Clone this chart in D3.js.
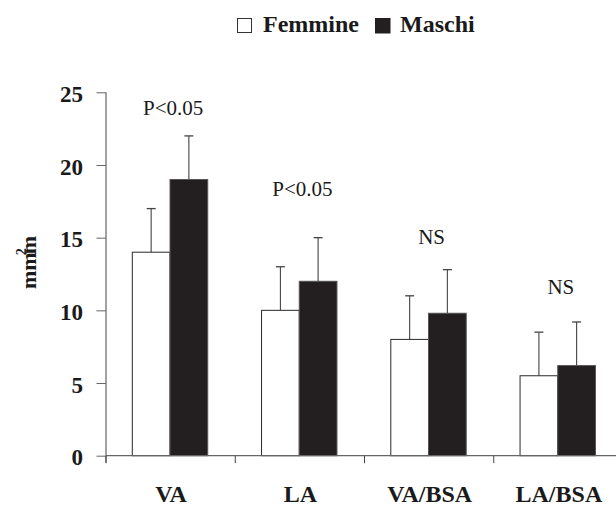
<!DOCTYPE html>
<html>
<head>
<meta charset="utf-8">
<script src="https://cdn.jsdelivr.net/npm/d3@7"></script>
<style>
  html, body { margin: 0; padding: 0; background: #fff; }
  svg { display: block; }
</style>
</head>
<body>
<svg id="chart" width="616" height="507"></svg>
<script>
const categories = ["VA", "LA", "VA/BSA", "LA/BSA"];
const seriesNames = ["Femmine", "Maschi"];
const femmine = [14, 10, 8, 5.5];
const femmineSD = [3, 3, 3, 3];
const maschi = [19, 12, 9.8, 6.2];
const maschiSD = [3, 3, 3, 3];
const annotations = ["P<0.05", "P<0.05", "NS", "NS"];
const annotationLevel = [24, 18.4, 15.1, 11.7];
const yTicks = [0, 5, 10, 15, 20, 25];

(function () {
const svg = d3.select("#chart");
const serif = "'Liberation Serif', 'Times New Roman', 'DejaVu Serif', serif";
const mLeft = 106, mRight = 623, mTop = 92.3, mBottom = 455.7;

const y = d3.scaleLinear().domain([0, 25]).range([mBottom, mTop]);
const x0 = d3.scaleBand().domain(categories).range([mLeft, mRight]).padding(0);
const bw = x0.bandwidth();
const x1 = d3.scaleBand().domain(seriesNames).range([bw * 0.2035, bw * 0.787]).padding(0);

const data = categories.map((c, i) => ({
  cat: c,
  vals: [
    { s: "Femmine", v: femmine[i], sd: femmineSD[i] },
    { s: "Maschi", v: maschi[i], sd: maschiSD[i] }
  ]
}));
const fill = { Femmine: "#ffffff", Maschi: "#231f20" };
const stroke = { Femmine: "#2a2a2a", Maschi: "#555" };

// Error bars (drawn behind bars)
const eg = svg.append("g");
data.forEach(d => {
  d.vals.forEach(b => {
    const cx = x0(d.cat) + x1(b.s) + x1.bandwidth() / 2;
    eg.append("line").attr("x1", cx).attr("x2", cx)
      .attr("y1", y(b.v)).attr("y2", y(b.v + b.sd))
      .attr("stroke", "#444").attr("stroke-width", 1.1);
    eg.append("line").attr("x1", cx - 4.5).attr("x2", cx + 4.5)
      .attr("y1", y(b.v + b.sd)).attr("y2", y(b.v + b.sd))
      .attr("stroke", "#444").attr("stroke-width", 1.3);
  });
});

// Bars
const g = svg.append("g");
data.forEach(d => {
  g.selectAll(null).data(d.vals).enter().append("rect")
    .attr("x", b => x0(d.cat) + x1(b.s))
    .attr("y", b => y(b.v))
    .attr("width", x1.bandwidth())
    .attr("height", b => y(0) - y(b.v))
    .attr("fill", b => fill[b.s])
    .attr("stroke", b => stroke[b.s])
    .attr("stroke-width", 1);
});

// Y axis
const yAxis = d3.axisLeft(y).tickValues(yTicks).tickSize(9.5).tickPadding(14);
const ya = svg.append("g").attr("transform", `translate(${mLeft},0)`).call(yAxis);
ya.select(".domain").attr("stroke", "#444").attr("d", `M0,${mTop}V${mBottom + 7}`);
ya.selectAll(".tick line").attr("stroke", "#666");
ya.selectAll(".tick text").attr("font-family", serif).attr("font-weight", "bold")
  .attr("font-size", 23).attr("dy", "0.4em").attr("x", -23).attr("fill", "#1a1a1a");

// X axis line with ticks at band boundaries
const xa = svg.append("g");
xa.append("line").attr("x1", mLeft).attr("x2", 616).attr("y1", mBottom).attr("y2", mBottom)
  .attr("stroke", "#666").attr("stroke-width", 1.2);
categories.forEach(c => {
  xa.append("line").attr("x1", x0(c)).attr("x2", x0(c))
    .attr("y1", mBottom).attr("y2", mBottom + 7.5)
    .attr("stroke", "#444").attr("stroke-width", 1);
});
categories.forEach(c => {
  xa.append("text").attr("x", x0(c) + bw / 2 + 0.5).attr("y", 502)
    .attr("text-anchor", "middle").attr("font-family", serif)
    .attr("font-weight", "bold").attr("font-size", 24).attr("fill", "#1a1a1a")
    .text(c);
});

// Annotations
categories.forEach((c, i) => {
  svg.append("text").attr("x", x0(c) + bw / 2 + 2.5).attr("y", y(annotationLevel[i]) + 8)
    .attr("text-anchor", "middle").attr("font-family", serif)
    .attr("font-size", 21).attr("fill", "#1a1a1a")
    .text(annotations[i]);
});

// Y axis title
const yt = svg.append("text").attr("transform", "translate(36,289) rotate(-90)")
  .attr("font-family", serif).attr("font-weight", "bold").attr("font-size", 22)
  .attr("fill", "#1a1a1a");
yt.append("tspan").text("mm");
yt.append("tspan").attr("font-size", 14).attr("dy", -10).attr("dx", -3).text("2");
yt.append("tspan").attr("dy", 10).attr("dx", -6).text("m");

// Legend
const lg = svg.append("g");
lg.append("rect").attr("x", 237.5).attr("y", 18.5).attr("width", 14).attr("height", 14)
  .attr("fill", "#fff").attr("stroke", "#333").attr("stroke-width", 1);
lg.append("text").attr("x", 263).attr("y", 32).attr("font-family", serif)
  .attr("font-weight", "bold").attr("font-size", 24).attr("fill", "#1a1a1a").text(seriesNames[0]);
lg.append("rect").attr("x", 375).attr("y", 18).attr("width", 15.5).attr("height", 15.5)
  .attr("fill", "#231f20");
lg.append("text").attr("x", 400).attr("y", 32).attr("font-family", serif)
  .attr("font-weight", "bold").attr("font-size", 24).attr("fill", "#1a1a1a").text(seriesNames[1]);
})();
</script>
</body>
</html>
